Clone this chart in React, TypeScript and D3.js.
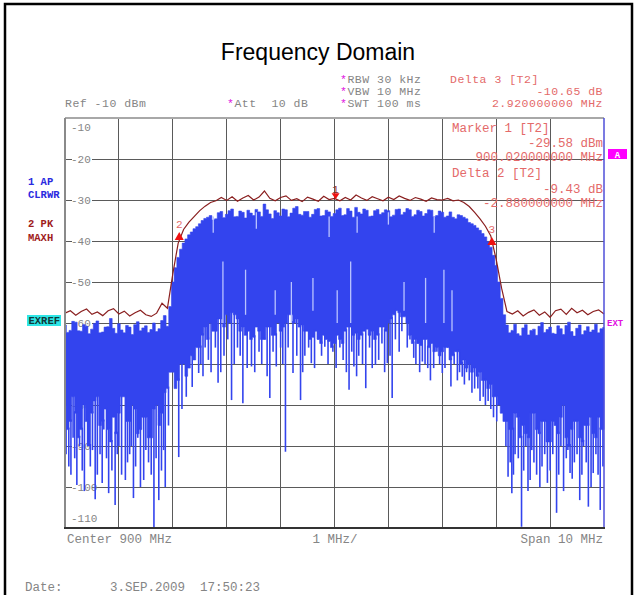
import React from 'react';
import * as d3 from 'd3';

// Sweep: 895 .. 905 MHz
const freqStart = 895;
const holdStep = 0.1; // trace 2 readings
const apStep = 0.05; // trace 1 readings

// Trace 2 (PK / MAXH), dBm, every 0.1 MHz
const maxHold = [
  -57.6, -57.0, -58.1, -57.2, -56.6, -57.9, -57.3, -58.2, -57.0, -56.5,
  -57.8, -57.1, -58.3, -57.5, -56.9, -58.0, -58.4, -57.6, -55.2, -56.4,
  -48.0, -40.5, -37.2, -35.4, -34.0, -32.6, -31.5, -30.6, -30.2, -29.4,
  -30.1, -29.2, -30.3, -29.5, -28.9, -30.0, -29.3, -27.8, -29.6, -30.2,
  -29.4, -29.0, -30.1, -29.7, -30.4, -29.3, -29.8, -30.3, -29.1, -29.9,
  -29.6, -30.2, -29.4, -30.0, -28.8, -29.5, -30.1, -29.2, -29.7, -30.2,
  -29.3, -29.9, -29.0, -29.6, -30.1, -29.4, -29.8, -30.3, -29.5, -29.9,
  -30.0, -29.6, -30.2, -30.0, -30.6, -31.6, -33.0, -34.6, -36.4, -38.8,
  -44.5, -51.5, -57.2, -57.8, -57.0, -58.3, -57.4, -56.8, -58.1, -57.3,
  -58.6, -57.0, -56.6, -57.9, -56.4, -57.5, -56.9, -58.0, -57.2, -56.8,
  -57.8,
];

// Trace 1 (AP / CLRWR): upper edge, dBm, every 0.05 MHz
const blueTop = [
  -60.5, -62.3, -61.8, -59.6, -59.8, -61.9, -62.0, -60.4, -60.8, -62.6,
  -61.5, -60.1, -59.5, -62.4, -62.2, -61.0, -60.9, -58.9, -61.3, -62.5,
  -60.2, -61.7, -62.4, -60.6, -61.0, -62.8, -60.4, -59.7, -61.9, -61.2,
  -60.7, -62.3, -61.6, -60.0, -62.1, -61.4, -59.4, -58.2, -60.8, -56.0,
  -50.0, -46.5, -44.0, -42.0, -40.5, -39.5, -38.5, -37.8, -37.0, -36.5,
  -35.8, -35.0, -34.5, -34.2, -33.8, -34.9, -34.6, -33.1, -32.8, -34.3,
  -33.5, -32.6, -32.2, -34.1, -34.0, -32.7, -33.0, -34.4, -32.5, -33.2,
  -33.8, -32.3, -32.9, -34.0, -31.0, -32.4, -33.4, -34.5, -32.6, -33.1,
  -33.9, -32.2, -32.4, -34.1, -33.2, -32.0, -31.6, -33.5, -33.7, -32.8,
  -32.8, -34.2, -33.5, -32.3, -32.1, -33.9, -33.8, -32.5, -32.9, -34.0,
  -33.3, -32.4, -32.0, -33.8, -33.6, -32.1, -32.7, -34.2, -31.8, -33.0,
  -33.4, -32.2, -32.5, -34.0, -33.9, -32.6, -32.3, -33.5, -33.1, -32.4,
  -32.6, -34.1, -33.7, -32.3, -32.2, -33.6, -33.0, -32.1, -32.4, -34.0,
  -33.6, -32.5, -32.8, -33.9, -33.3, -32.4, -32.5, -34.1, -33.8, -32.7,
  -33.0, -34.2, -33.9, -32.9, -34.2, -34.6, -33.6, -33.8, -34.2, -34.6,
  -35.5, -35.8, -36.2, -36.8, -37.4, -38.2, -39.0, -40.2, -41.5, -43.5,
  -46.0, -50.0, -54.0, -58.0, -60.5, -62.4, -61.8, -60.3, -62.6, -63.1,
  -61.2, -60.4, -62.9, -61.8, -61.5, -63.0, -60.8, -59.9, -62.3, -61.6,
  -61.0, -62.5, -62.7, -60.7, -61.4, -62.8, -60.6, -59.8, -62.1, -63.2,
  -61.3, -60.5, -62.8, -61.9, -60.9, -62.2, -61.7, -60.3, -62.4, -61.4,
  -61.1,
];

// Trace 1: lower edge of the solid part, dBm, every 0.05 MHz
const blueFloor = [
  -80, -86, -84, -78, -82, -88, -86, -80, -84, -90,
  -82, -79, -78, -85, -84, -81, -86, -89, -83, -87,
  -82, -78, -78, -84, -84, -80, -81, -87, -86, -83,
  -83, -88, -88, -81, -80, -85, -82, -77, -76, -72,
  -72, -76, -74, -70, -70, -73, -71, -68, -69, -66,
  -66, -63, -61, -64, -60, -62, -62, -59, -59, -61,
  -58, -60, -57.5, -58, -59, -62, -61, -63, -62, -64,
  -63.5, -61, -62, -64, -64, -61, -61, -63, -63, -60,
  -62, -61, -60, -58, -58, -60, -59, -61, -60.5, -62,
  -62, -64, -63.5, -62, -64, -65, -63, -64, -64.5, -66,
  -65, -63, -64, -65, -62, -61, -61, -63, -62.5, -64,
  -63, -62, -61.5, -63, -62, -64, -63, -61, -61, -62,
  -60, -59, -58, -57, -57.5, -58.5, -58.5, -60, -63, -65,
  -64, -65, -65.5, -64, -64, -66, -65, -67, -66, -68,
  -67, -66, -66, -69, -68, -67, -67, -70, -69, -71,
  -70, -72, -71, -73, -72, -74, -74, -76, -75, -78,
  -78, -80, -82, -84, -84, -86, -86, -82, -83, -88,
  -85, -87, -88, -82, -82, -86, -87, -84, -84, -89,
  -89, -84, -85, -87, -83, -80, -88, -90, -86, -84,
  -84, -88, -89, -85, -85, -83, -87, -88, -83, -86,
  -86,
];

// Trace 1: downward spikes [MHz, dBm]
const blueSpikes: [number, number][] = [
  [895.02, -92], [895.07, -95], [895.11, -97], [895.15, -88], [895.18, -93],
  [895.22, -99.5], [895.27, -90], [895.32, -96], [895.36, -101], [895.42, -90],
  [895.47, -95], [895.51, -91], [895.56, -103], [895.6, -97], [895.65, -92],
  [895.69, -99], [895.72, -86], [895.77, -93], [895.81, -101.5], [895.87, -96],
  [895.93, -104.4], [895.97, -92], [896.0, -90], [896.05, -97], [896.12, -98.3],
  [896.16, -94], [896.2, -92], [896.23, -90], [896.27, -102.7], [896.31, -95],
  [896.35, -88], [896.4, -100], [896.46, -98.3], [896.5, -91], [896.55, -94],
  [896.6, -97], [896.65, -110], [896.69, -93], [896.74, -103.2], [896.79, -96],
  [896.83, -91], [896.86, -100], [896.92, -85], [897.11, -92.7], [897.17, -81],
  [897.25, -78], [897.36, -75.6], [897.48, -72.2], [897.52, -70], [897.56, -73],
  [897.6, -66], [897.66, -69], [897.71, -72], [897.79, -66], [897.84, -74.6],
  [897.89, -72], [897.95, -68], [898.02, -64], [898.09, -78.8], [898.14, -70],
  [898.2, -66], [898.25, -68], [898.3, -79.6], [898.38, -71], [898.46, -70.6],
  [898.52, -72], [898.6, -67], [898.65, -70], [898.7, -64], [898.75, -73],
  [898.8, -78.3], [898.86, -67], [898.92, -70.6], [899.0, -66], [899.04, -70],
  [899.09, -91.4], [899.14, -66], [899.23, -72.2], [899.3, -68], [899.37, -78.8],
  [899.41, -72], [899.45, -68], [899.52, -66], [899.57, -69.8], [899.63, -71],
  [899.7, -64], [899.76, -68], [899.82, -65.8], [899.88, -70], [899.97, -67],
  [900.03, -71], [900.1, -66], [900.16, -69], [900.22, -72], [900.27, -76.3],
  [900.32, -67], [900.36, -70.6], [900.41, -73], [900.45, -68], [900.52, -70],
  [900.58, -75.9], [900.65, -66], [900.7, -71], [900.76, -70.2], [900.82, -69],
  [900.88, -65], [900.93, -72], [900.98, -69.8], [901.03, -68], [901.07, -78.3],
  [901.13, -64], [901.2, -67], [901.25, -62], [901.35, -66], [901.4, -64],
  [901.47, -68.5], [901.51, -70], [901.55, -65], [901.58, -72], [901.63, -69.4],
  [901.68, -70], [901.73, -71], [901.78, -74], [901.84, -71], [901.9, -67],
  [901.95, -70], [902.0, -72.2], [902.05, -71], [902.1, -66], [902.16, -75.5],
  [902.22, -70], [902.28, -74], [902.32, -72], [902.37, -73.1], [902.41, -75],
  [902.45, -72], [902.5, -74], [902.55, -77], [902.6, -76], [902.66, -76],
  [902.7, -79], [902.76, -78], [902.8, -80], [902.85, -79], [902.9, -81],
  [902.95, -83], [903.01, -84], [903.18, -90], [903.22, -97.5], [903.26, -94],
  [903.29, -101.5], [903.32, -97], [903.35, -92], [903.41, -93], [903.47, -109.7],
  [903.51, -96], [903.55, -90], [903.59, -101], [903.63, -98.3], [903.66, -91],
  [903.7, -94], [903.75, -97], [903.81, -100], [903.85, -95], [903.9, -92],
  [903.95, -99], [904.0, -96], [904.05, -92], [904.12, -106.3], [904.16, -97],
  [904.2, -90], [904.25, -101], [904.3, -93], [904.33, -91], [904.37, -96.6],
  [904.41, -98], [904.45, -94], [904.5, -92], [904.55, -103.2], [904.59, -97],
  [904.62, -90], [904.67, -94], [904.71, -104.8], [904.76, -100], [904.8, -96.6],
  [904.85, -92], [904.89, -97], [904.93, -105.6], [904.98, -95],
];

// Light streaks inside the solid part [MHz, top dBm, bottom dBm]
const blueGaps: [number, number, number][] = [
  [897.75, -34, -38], [897.93, -45, -60], [898.35, -47, -58], [898.55, -33, -37],
  [898.9, -52, -58], [899.2, -50, -60], [899.6, -49, -57], [899.9, -34, -39],
  [900.05, -52, -60], [900.3, -45, -60], [900.42, -34, -38], [901.0, -33, -36],
  [901.29, -50, -57], [901.69, -49, -60], [901.85, -34, -38], [902.03, -47, -60],
  [902.18, -52, -62],
];

const levelTicks = [-10, -20, -30, -40, -50, -60, -70, -80, -90, -100, -110];
const freqTicks = [895, 896, 897, 898, 899, 900, 901, 902, 903, 904, 905];

const markers = [
  { id: '1', freq: 900.02, level: -29.58 },
  { id: '2', freq: 897.12, level: -39.01 },
  { id: '3', freq: 902.92, level: -40.23 },
];

const W = 638;
const H = 595;
const plot = { left: 65, right: 604, top: 118, bottom: 528 };
const mono = "'Liberation Mono', 'DejaVu Sans Mono', monospace";
const sans = "'Liberation Sans', Arial, sans-serif";
const gray = '#858585';
const pink = '#e46a6a';
const magenta = '#e010e0';
const blue = '#3344ee';

const x = d3.scaleLinear().domain([895, 905]).range([plot.left, plot.right]);
const y = d3.scaleLinear().domain([-110, -10]).range([plot.bottom, plot.top]);
const apFreqs = blueTop.map((_, i) => freqStart + i * apStep);
const holdFreqs = maxHold.map((_, i) => freqStart + i * holdStep);

// nearest reading of trace 1
const floorAt = (f: number) =>
  blueFloor[Math.max(0, Math.min(blueFloor.length - 1, Math.round((f - freqStart) / apStep)))];

export default function App() {
  const area = d3.area<number>()
    .curve(d3.curveStep)
    .x((_, i) => x(apFreqs[i]))
    .y0((_, i) => y(blueFloor[i]))
    .y1(d => y(d));
  const line = d3.line<number>()
    .x((_, i) => x(holdFreqs[i]))
    .y(d => y(d));

  const tri = (cx: number, cy: number, up: boolean) =>
    up
      ? `M${cx - 4.5},${cy + 3}L${cx + 4.5},${cy + 3}L${cx},${cy - 5}Z`
      : `M${cx - 4},${cy - 5}L${cx + 4},${cy - 5}L${cx},${cy + 1}Z`;

  return (
    <svg width={W} height={H} style={{ position: 'absolute', left: 0, top: 0, background: '#fff' }}>
      <rect x={5} y={4} width={627} height={H + 10} fill="none" stroke="#000" strokeWidth={2.5} />

      <text x={318} y={60} textAnchor="middle" fontFamily={sans} fontSize={23} fill="#000">Frequency Domain</text>

      <g fontFamily={mono} fontSize={11.5} letterSpacing={0.5}>
        <text x={340} y={83} fill={gray}><tspan fill={magenta}>*</tspan>RBW 30 kHz</text>
        <text x={340} y={95} fill={gray}><tspan fill={magenta}>*</tspan>VBW 10 MHz</text>
        <text x={340} y={107} fill={gray}><tspan fill={magenta}>*</tspan>SWT 100 ms</text>
        <text x={65} y={107} fill={gray} xmlSpace="preserve">Ref -10 dBm</text>
        <text x={227} y={107} fill={gray} xmlSpace="preserve"><tspan fill={magenta}>*</tspan>Att  10 dB</text>
        <text x={450} y={83} fill={pink}>Delta 3 [T2]</text>
        <text x={603} y={95} fill={pink} textAnchor="end">-10.65 dB</text>
        <text x={603} y={107} fill={pink} textAnchor="end">2.920000000 MHz</text>
      </g>

      {/* grid */}
      <g stroke="#5a5a5a" strokeWidth={1} shapeRendering="crispEdges">
        {freqTicks.slice(1, -1).map(f => (
          <line key={f} x1={x(f)} x2={x(f)} y1={plot.top} y2={plot.bottom} />
        ))}
        {levelTicks.slice(1, -1).map(l => (
          <line key={l} x1={plot.left} x2={plot.right} y1={y(l)} y2={y(l)} />
        ))}
      </g>

      {/* level labels */}
      <g fontFamily={mono} fontSize={11} fill={gray}>
        {levelTicks.map((l, i) => {
          const yy = i === 0 ? y(l) + 13 : i === levelTicks.length - 1 ? y(l) - 6 : y(l) + 4;
          return (
            <g key={l}>
              {i > 0 && i < levelTicks.length - 1 && (
                <rect x={72} y={y(l) - 5} width={20} height={10} fill="#fff" />
              )}
              <text x={71} y={yy}>{l}</text>
            </g>
          );
        })}
      </g>

      {/* trace 1 */}
      <path d={area(blueTop) || ''} fill={blue} stroke={blue} strokeWidth={0.6} />
      <g stroke={blue} strokeWidth={1.6}>
        {blueSpikes.map(([f, l], i) => (
          <line key={i} x1={x(f)} x2={x(f)} y1={y(floorAt(f)) - 2} y2={y(l)} />
        ))}
      </g>
      <g stroke="#b9c3ff" strokeWidth={1.3}>
        {blueGaps.map(([f, a, b], i) => (
          <line key={i} x1={x(f)} x2={x(f)} y1={y(a)} y2={y(b)} />
        ))}
      </g>

      {/* trace 2 */}
      <path d={line(maxHold) || ''} fill="none" stroke="#8a1f1f" strokeWidth={1.2} />

      {/* markers */}
      {markers.map(m => {
        const cx = x(m.freq);
        const cy = y(m.level);
        const first = m.id === '1';
        return (
          <g key={m.id}>
            <path d={tri(cx, cy, !first)} fill="#ee1111" />
            <text x={cx} y={first ? cy - 5 : cy - 9}
              textAnchor="middle" fontFamily={mono} fontSize={11} fill={first ? '#8a1f1f' : pink}>{m.id}</text>
          </g>
        );
      })}

      <g fontFamily={mono} fontSize={12.5} fill={pink}>
        <text x={452} y={132}>Marker 1 [T2]</text>
        <text x={603} y={147} textAnchor="end">-29.58 dBm</text>
        <text x={603} y={161} textAnchor="end">900.020000000 MHz</text>
        <text x={452} y={177}>Delta 2 [T2]</text>
        <text x={603} y={193} textAnchor="end">-9.43 dB</text>
        <text x={603} y={207} textAnchor="end">-2.880000000 MHz</text>
      </g>

      {/* frame of the screen */}
      <line x1={plot.left} x2={plot.right} y1={plot.top} y2={plot.top} stroke="#a8a8a8" strokeWidth={2} />
      <line x1={plot.left} x2={plot.left} y1={plot.top} y2={plot.bottom} stroke="#8a8a8a" strokeWidth={2} />
      <line x1={plot.right} x2={plot.right} y1={plot.top} y2={plot.bottom} stroke="#4f4fd8" strokeWidth={1.5} />
      <line x1={plot.left - 1} x2={plot.right + 1} y1={plot.bottom} y2={plot.bottom} stroke="#333" strokeWidth={2} />

      {/* side annotations */}
      <g fontFamily={mono} fontSize={10.5} fontWeight="bold">
        <text x={28} y={185} fill="#2a2ae0">1 AP</text>
        <text x={28} y={198} fill="#2a2ae0">CLRWR</text>
        <text x={28} y={227} fill="#a01c1c">2 PK</text>
        <text x={28} y={241} fill="#a01c1c">MAXH</text>
        <rect x={27} y={315} width={34} height={11} fill="#2ee6e6" />
        <text x={28.5} y={324} fill="#0f3b3b">EXREF</text>
        <rect x={608} y={149} width={19} height={10} fill="#ff00ff" />
        <text x={617.5} y={157.5} fill="#fff" textAnchor="middle" fontSize={9}>A</text>
        <text x={607} y={326} fill={magenta} fontSize={9}>EXT</text>
      </g>

      <g fontFamily={mono} fontSize={12.5} fill={gray}>
        <text x={67} y={543}>Center 900 MHz</text>
        <text x={335} y={543} textAnchor="middle">1 MHz/</text>
        <text x={603} y={543} textAnchor="end">Span 10 MHz</text>
        <text x={25} y={591}>Date:</text>
        <text x={110} y={591}>3.SEP.2009</text>
        <text x={200} y={591}>17:50:23</text>
      </g>
    </svg>
  );
}
